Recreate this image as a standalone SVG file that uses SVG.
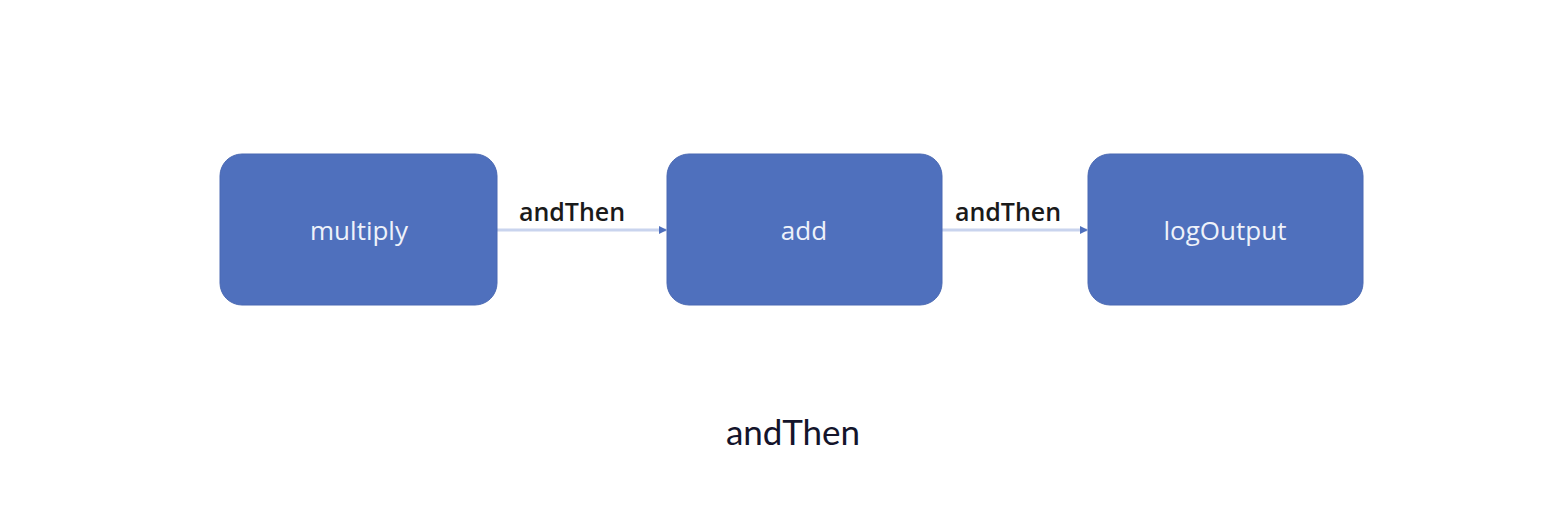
<svg xmlns="http://www.w3.org/2000/svg" width="1550" height="518" viewBox="0 0 1550 518">
<style>
.box{fill:#4f70bd;stroke:#4a69b3;stroke-width:1}
.nt{font-family:"Open Sans","Liberation Sans",sans-serif;font-size:26px;fill:#eef2fa;text-anchor:middle}
.lbl{font-family:"Open Sans","Liberation Sans",sans-serif;font-size:25px;font-weight:600;fill:#1a1a1a;text-anchor:middle}
.conn{stroke:#c9d4ee;stroke-width:3;fill:none}
.cap{font-family:Lato,"Liberation Sans",sans-serif;font-size:35px;fill:#14142b;text-anchor:middle}
</style>
<defs>
<marker id="ah" markerWidth="8" markerHeight="8" refX="7" refY="4" orient="auto" markerUnits="userSpaceOnUse">
<path d="M0,0 L8,4 L0,8 Z" fill="#4f70bd"/>
</marker>
</defs>
<rect width="1550" height="518" fill="#ffffff"/>
<g id="connectors">
<line class="conn" x1="497" y1="230" x2="666" y2="230" marker-end="url(#ah)"/>
<text class="lbl" x="572" y="221">andThen</text>
<line class="conn" x1="942" y1="230" x2="1087" y2="230" marker-end="url(#ah)"/>
<text class="lbl" x="1008" y="221">andThen</text>
</g>
<g id="multiply">
<rect class="box" x="220" y="154" width="277" height="151" rx="22"/>
<text class="nt" x="359" y="240">multiply</text>
</g>
<g id="add">
<rect class="box" x="667" y="154" width="275" height="151" rx="22"/>
<text class="nt" x="804" y="240">add</text>
</g>
<g id="logOutput">
<rect class="box" x="1088" y="154" width="275" height="151" rx="22"/>
<text class="nt" x="1225" y="240">logOutput</text>
</g>
<text class="cap" x="793" y="445">andThen</text>
</svg>
